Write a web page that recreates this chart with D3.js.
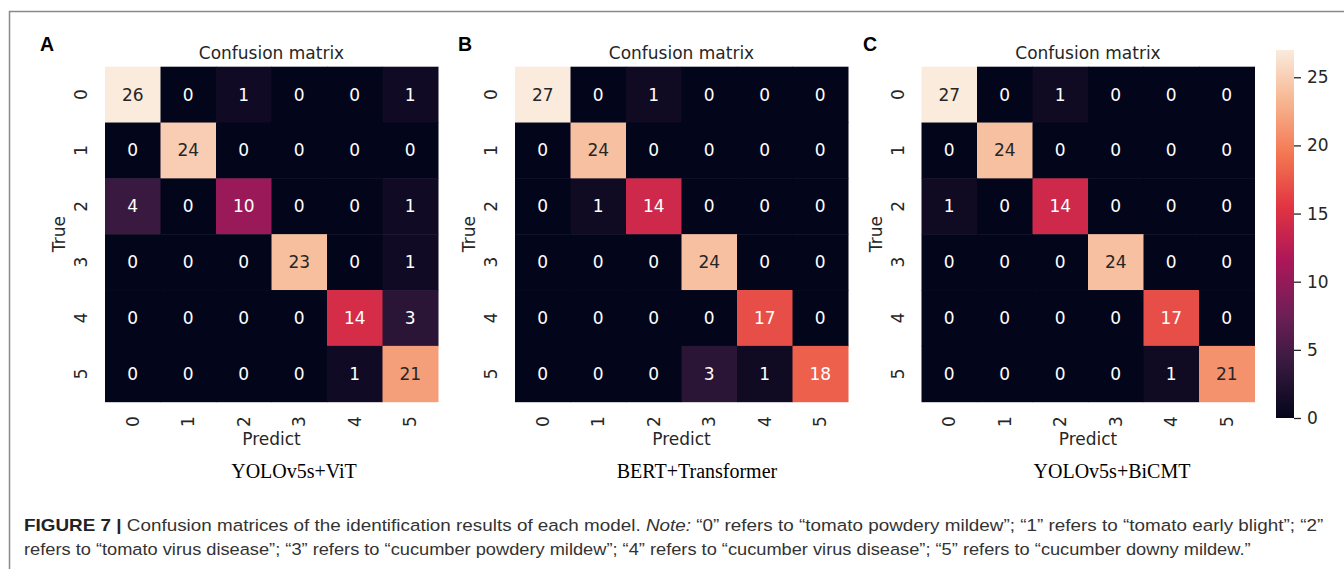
<!DOCTYPE html>
<html>
<head>
<meta charset="utf-8">
<script src="https://cdn.jsdelivr.net/npm/d3@7"></script>
<style>
  html, body { margin: 0; padding: 0; background: #fff; }
  svg { display: block; }
</style>
</head>
<body>
<svg id="fig" width="1344" height="569"></svg>
<script>
// Class indices shared by every matrix (rows = true, columns = predicted)
const classLabels = ["0", "1", "2", "3", "4", "5"];

// Confusion matrices, one per model
const matrixYoloVit = [
  [26, 0, 1, 0, 0, 1],
  [0, 24, 0, 0, 0, 0],
  [4, 0, 10, 0, 0, 1],
  [0, 0, 0, 23, 0, 1],
  [0, 0, 0, 0, 14, 3],
  [0, 0, 0, 0, 1, 21]
];
const matrixBertTransformer = [
  [27, 0, 1, 0, 0, 0],
  [0, 24, 0, 0, 0, 0],
  [0, 1, 14, 0, 0, 0],
  [0, 0, 0, 24, 0, 0],
  [0, 0, 0, 0, 17, 0],
  [0, 0, 0, 3, 1, 18]
];
const matrixYoloBicmt = [
  [27, 0, 1, 0, 0, 0],
  [0, 24, 0, 0, 0, 0],
  [1, 0, 14, 0, 0, 0],
  [0, 0, 0, 24, 0, 0],
  [0, 0, 0, 0, 17, 0],
  [0, 0, 0, 0, 1, 21]
];

const panelLetters = ["A", "B", "C"];
const modelNames = ["YOLOv5s+ViT", "BERT+Transformer", "YOLOv5s+BiCMT"];
const colorbarTicks = [0, 5, 10, 15, 20, 25];

const captionLine1 = [
  { t: "FIGURE 7 | ", w: "bold" },
  { t: "Confusion matrices of the identification results of each model. " },
  { t: "Note:", s: "italic" },
  { t: " \u201C0\u201D refers to \u201Ctomato powdery mildew\u201D; \u201C1\u201D refers to \u201Ctomato early blight\u201D; \u201C2\u201D" }
];
const captionLine2 = "refers to \u201Ctomato virus disease\u201D; \u201C3\u201D refers to \u201Ccucumber powdery mildew\u201D; \u201C4\u201D refers to \u201Ccucumber virus disease\u201D; \u201C5\u201D refers to \u201Ccucumber downy mildew.\u201D";

// Seaborn "rocket" colormap, sampled stops
const rocketStops = ["#03051a", "#35193e", "#701f57", "#ad1759", "#e13342", "#f37651", "#f6b48f", "#faebdd"];
function rocketScale(maxVal) {
  return d3.scaleLinear()
    .domain(rocketStops.map((_, i) => i / (rocketStops.length - 1) * maxVal))
    .range(rocketStops)
    .interpolate(d3.interpolateRgb)
    .clamp(true);
}
function luminance(c) {
  const r = d3.rgb(c);
  const lin = v => { v /= 255; return v <= 0.03928 ? v / 12.92 : Math.pow((v + 0.055) / 1.055, 2.4); };
  return 0.2126 * lin(r.r) + 0.7152 * lin(r.g) + 0.0722 * lin(r.b);
}

const svg = d3.select("#fig");
const ink = "#262626";
const mono = "'DejaVu Sans', sans-serif";

// Outer frame (top and left rules)
svg.append("path")
  .attr("d", "M9.5,569 L9.5,11.5 L1344,11.5")
  .attr("fill", "none").attr("stroke", "#8a8a8a").attr("stroke-width", 1.5);

const panels = [
  { data: matrixYoloVit, left: 105, letterX: 40, nameX: 294 },
  { data: matrixBertTransformer, left: 515, letterX: 458, nameX: 697 },
  { data: matrixYoloBicmt, left: 921.5, letterX: 863, nameX: 1112 }
];
const mapTop = 66.7, mapW = 333, mapH = 335;

panels.forEach((p, pi) => {
  const g = svg.append("g").attr("transform", `translate(${p.left},${mapTop})`);
  const x = d3.scaleBand().domain(classLabels).range([0, mapW]);
  const y = d3.scaleBand().domain(classLabels).range([0, mapH]);
  const maxVal = d3.max(p.data.flat());
  const color = rocketScale(maxVal);

  const cells = [];
  p.data.forEach((row, r) => row.forEach((v, c) => cells.push({ r, c, v })));

  g.selectAll("rect.cell").data(cells).join("rect")
    .attr("class", "cell")
    .attr("x", d => x(classLabels[d.c]))
    .attr("y", d => y(classLabels[d.r]))
    .attr("width", x.bandwidth() + 0.5)
    .attr("height", y.bandwidth() + 0.5)
    .attr("fill", d => color(d.v));

  g.selectAll("text.ann").data(cells).join("text")
    .attr("class", "ann")
    .attr("x", d => x(classLabels[d.c]) + x.bandwidth() / 2)
    .attr("y", d => y(classLabels[d.r]) + y.bandwidth() / 2)
    .attr("text-anchor", "middle")
    .attr("dominant-baseline", "central")
    .attr("font-family", mono).attr("font-size", 17)
    .attr("fill", d => luminance(color(d.v)) > 0.408 ? ink : "#ffffff")
    .text(d => d.v);

  // Row axis (true class)
  const ya = g.append("g").call(d3.axisLeft(y).tickSize(0));
  ya.select(".domain").remove();
  ya.selectAll("text")
    .attr("x", 0).attr("dy", null)
    .attr("text-anchor", "middle").attr("dominant-baseline", "central")
    .attr("transform", "translate(-24,0) rotate(-90)")
    .attr("font-family", mono).attr("font-size", 17).attr("fill", ink);

  // Column axis (predicted class)
  const xa = g.append("g").attr("transform", `translate(0,${mapH})`).call(d3.axisBottom(x).tickSize(0));
  xa.select(".domain").remove();
  xa.selectAll("text")
    .attr("y", 0).attr("dy", null)
    .attr("text-anchor", "middle").attr("dominant-baseline", "central")
    .attr("transform", "translate(0,20) rotate(-90)")
    .attr("font-family", mono).attr("font-size", 17).attr("fill", ink);

  g.append("text")
    .attr("x", mapW / 2).attr("y", -8)
    .attr("text-anchor", "middle")
    .attr("font-family", mono).attr("font-size", 17).attr("fill", ink)
    .text("Confusion matrix");

  g.append("text")
    .attr("x", mapW / 2).attr("y", mapH + 43)
    .attr("text-anchor", "middle")
    .attr("font-family", mono).attr("font-size", 17).attr("fill", ink)
    .text("Predict");

  g.append("text")
    .attr("transform", `translate(-40,${mapH / 2}) rotate(-90)`)
    .attr("text-anchor", "middle")
    .attr("font-family", mono).attr("font-size", 17).attr("fill", ink)
    .text("True");

  svg.append("text")
    .attr("x", p.letterX).attr("y", 50.5)
    .attr("font-family", "'Liberation Sans', Arial, sans-serif")
    .attr("font-weight", "bold").attr("font-size", 19.5).attr("fill", "#000")
    .text(panelLetters[pi]);

  svg.append("text")
    .attr("x", p.nameX).attr("y", 478)
    .attr("text-anchor", "middle")
    .attr("font-family", "'Liberation Serif', 'Times New Roman', serif")
    .attr("font-size", 20).attr("fill", "#000")
    .text(modelNames[pi]);
});

// Colour bar
const cbMax = d3.max(matrixYoloBicmt.flat());
const cbColor = rocketScale(cbMax);
const cbX = 1276, cbW = 18, cbTop = 50, cbBottom = 418;
const cbScale = d3.scaleLinear().domain([0, cbMax]).range([cbBottom, cbTop]);
const grad = svg.append("defs").append("linearGradient")
  .attr("id", "cbGrad").attr("x1", 0).attr("y1", 1).attr("x2", 0).attr("y2", 0);
d3.range(0, 1.0001, 0.02).forEach(t => {
  grad.append("stop").attr("offset", t).attr("stop-color", cbColor(t * cbMax));
});
svg.append("rect")
  .attr("x", cbX).attr("y", cbTop).attr("width", cbW).attr("height", cbBottom - cbTop)
  .attr("fill", "url(#cbGrad)");
const cba = svg.append("g").attr("transform", `translate(${cbX + cbW},0)`)
  .call(d3.axisRight(cbScale).tickValues(colorbarTicks).tickSize(7).tickPadding(6));
cba.select(".domain").remove();
cba.selectAll("line").attr("stroke", ink).attr("stroke-width", 1.3);
cba.selectAll("text").attr("font-family", mono).attr("font-size", 17).attr("fill", ink);

// Caption
const capFont = "'Liberation Sans', Arial, Helvetica, sans-serif";
const cap1 = svg.append("text").attr("x", 24).attr("y", 531)
  .attr("font-family", capFont).attr("font-size", 16.5).attr("fill", "#333");
captionLine1.forEach(s => {
  cap1.append("tspan")
    .attr("font-weight", s.w || "normal")
    .attr("font-style", s.s || "normal")
    .attr("fill", s.w ? "#222" : "#333")
    .text(s.t);
});
const cap2 = svg.append("text").attr("x", 24).attr("y", 555)
  .attr("font-family", capFont).attr("font-size", 16.5).attr("fill", "#333")
  .text(captionLine2);

// Condense caption lines horizontally to their set widths
function fitWidth(sel, x0, target) {
  const w = sel.node().getComputedTextLength();
  const k = target / w;
  sel.attr("x", x0 / k).attr("transform", `scale(${k},1)`);
}
fitWidth(cap1, 24, 1324 - 24);
fitWidth(cap2, 24, 1252 - 24);
</script>
</body>
</html>
